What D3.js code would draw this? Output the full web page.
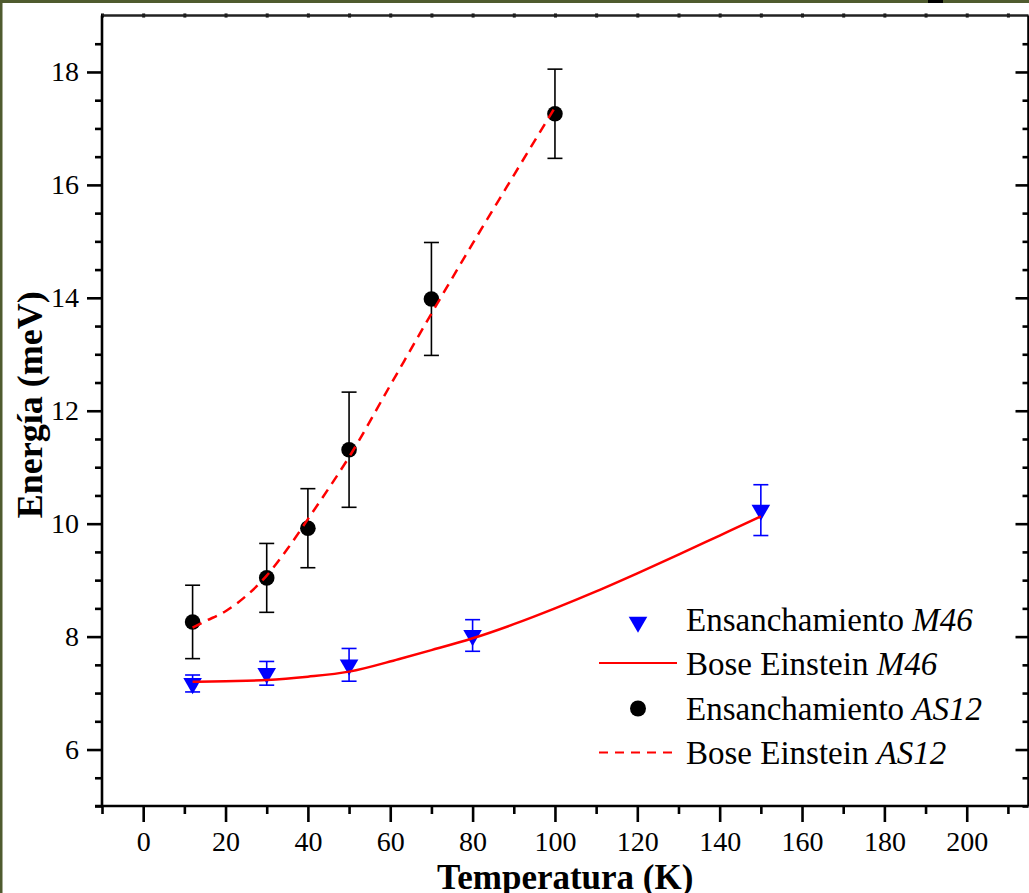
<!DOCTYPE html>
<html>
<head>
<meta charset="utf-8">
<script src="https://cdn.jsdelivr.net/npm/d3@7"></script>
<style>
  html, body { margin: 0; padding: 0; background: #ffffff; }
  svg { display: block; }
  text { font-family: "Liberation Serif", "Times New Roman", serif; fill: #000; }
</style>
</head>
<body>
<svg id="chart" width="1029" height="893"></svg>
<script>
// ---- data ----
const m46T   = [12, 30, 50, 80, 150];
const m46E   = [7.17, 7.35, 7.50, 8.02, 10.24];
const m46Err = [0.15, 0.21, 0.29, 0.28, 0.45];

const as12T   = [12, 30, 40, 50, 70, 100];
const as12E   = [8.26, 9.04, 9.92, 11.31, 13.98, 17.26];
const as12Err = [0.65, 0.61, 0.70, 1.02, 1.00, 0.79];

// fitted curves
const fitM46T = [12, 20, 30, 40, 50, 62, 70, 80, 90, 100, 110, 120, 130, 140, 150];
const fitM46E = [7.20, 7.21, 7.23, 7.29, 7.38, 7.60, 7.76, 7.97, 8.22, 8.50, 8.80, 9.12, 9.45, 9.79, 10.13];
const fitAS12T = [12, 15, 20, 25, 30, 35, 40, 45, 50, 60, 70, 80, 90, 100];
const fitAS12E = [8.16, 8.27, 8.45, 8.72, 9.08, 9.55, 10.08, 10.62, 11.18, 12.45, 13.72, 14.96, 16.17, 17.37];

const xMajorTicks = [0, 20, 40, 60, 80, 100, 120, 140, 160, 180, 200];
const xMinorTicks = [-10, 10, 30, 50, 70, 90, 110, 130, 150, 170, 190, 210];
const yMajorTicks = [6, 8, 10, 12, 14, 16, 18];
const yMinorTicks = [5, 5.5, 6.5, 7, 7.5, 8.5, 9, 9.5, 10.5, 11, 11.5, 12.5, 13, 13.5, 14.5, 15, 15.5, 16.5, 17, 17.5, 18.5];
const topTicks = d3.range(-10, 215, 10);

const legendLabels = [
  {main: "Ensanchamiento ", ital: "M46"},
  {main: "Bose Einstein ", ital: "M46"},
  {main: "Ensanchamiento ", ital: "AS12"},
  {main: "Bose Einstein ", ital: "AS12"}
];
const xTitle = "Temperatura (K)";
const yTitle = "Energía (meV)";

// ---- layout ----
const svg = d3.select("#chart");
const W = 1029, H = 893;
const x = d3.scaleLinear().domain([-10, 215]).range([102, 1028.5]);
const y = d3.scaleLinear().domain([5, 19]).range([806, 15.5]);
const X0 = x(-10), X1 = x(215), Y0 = y(5), Y1 = y(19);

// background + olive frame
svg.append("rect").attr("width", W).attr("height", H).attr("fill", "#ffffff");
svg.append("rect").attr("x", 0).attr("y", 0).attr("width", W).attr("height", 3).attr("fill", "#4f5b2f");
svg.append("rect").attr("x", 0).attr("y", 0).attr("width", 2.5).attr("height", H).attr("fill", "#4f5b2f");
svg.append("rect").attr("x", 928).attr("y", 0).attr("width", 15).attr("height", 3).attr("fill", "#000");

const AX = 2.6;

// bottom axis major
const gxMaj = svg.append("g").attr("transform", `translate(0,${Y0})`)
  .call(d3.axisBottom(x).tickValues(xMajorTicks).tickSize(16).tickSizeOuter(0).tickPadding(10).tickFormat(d3.format("d")));
gxMaj.select(".domain").remove();
gxMaj.selectAll("line").attr("stroke", "#000").attr("stroke-width", AX);
gxMaj.selectAll("text").attr("font-size", 28).attr("font-family", "Liberation Serif, serif").attr("dy", "0.68em");

const gxMin = svg.append("g").attr("transform", `translate(0,${Y0})`)
  .call(d3.axisBottom(x).tickValues(xMinorTicks).tickSize(8).tickSizeOuter(0).tickFormat(""));
gxMin.select(".domain").remove();
gxMin.selectAll("line").attr("stroke", "#000").attr("stroke-width", AX);

// top axis tiny ticks
const gxTop = svg.append("g").attr("transform", `translate(0,${Y1})`)
  .call(d3.axisTop(x).tickValues(topTicks).tickSize(2).tickSizeOuter(0).tickFormat(""));
gxTop.select(".domain").remove();
gxTop.selectAll("line").attr("stroke", "#000").attr("stroke-width", 3).attr("y1", 2).attr("y2", -2);

// left axis
const gyMaj = svg.append("g").attr("transform", `translate(${X0},0)`)
  .call(d3.axisLeft(y).tickValues(yMajorTicks).tickSize(15).tickSizeOuter(0).tickPadding(8).tickFormat(d3.format("d")));
gyMaj.select(".domain").remove();
gyMaj.selectAll("line").attr("stroke", "#000").attr("stroke-width", AX);
gyMaj.selectAll("text").attr("font-size", 28).attr("font-family", "Liberation Serif, serif");

const gyMin = svg.append("g").attr("transform", `translate(${X0},0)`)
  .call(d3.axisLeft(y).tickValues(yMinorTicks).tickSize(7).tickSizeOuter(0).tickFormat(""));
gyMin.select(".domain").remove();
gyMin.selectAll("line").attr("stroke", "#000").attr("stroke-width", AX);

// right axis (ticks inward)
const gyR = svg.append("g").attr("transform", `translate(${X1},0)`)
  .call(d3.axisLeft(y).tickValues(yMajorTicks).tickSize(-0).tickFormat(""));
gyR.select(".domain").remove();
gyR.selectAll("line").attr("stroke", "#000").attr("stroke-width", AX).attr("x1", 0).attr("x2", -13);
const gyR2 = svg.append("g").attr("transform", `translate(${X1},0)`)
  .call(d3.axisLeft(y).tickValues(yMinorTicks).tickSize(0).tickFormat(""));
gyR2.select(".domain").remove();
gyR2.selectAll("line").attr("stroke", "#000").attr("stroke-width", AX).attr("x1", 0).attr("x2", -6);

// frame lines
const frame = svg.append("g").attr("stroke", "#000").attr("stroke-width", AX).attr("fill", "none");
frame.append("line").attr("x1", X0 - 7).attr("x2", X1).attr("y1", Y0).attr("y2", Y0);
frame.append("line").attr("x1", X0).attr("x2", X1).attr("y1", Y1).attr("y2", Y1).attr("stroke", "#222");
frame.append("line").attr("x1", X0).attr("x2", X0).attr("y1", Y1).attr("y2", Y0);
frame.append("line").attr("x1", X1).attr("x2", X1).attr("y1", Y1).attr("y2", Y0);

// axis titles
svg.append("text").attr("x", (X0 + X1) / 2).attr("y", 889)
  .attr("text-anchor", "middle").attr("font-weight", "bold").attr("font-size", 35)
  .text(xTitle);
svg.append("text").attr("transform", `translate(42,${(Y0 + Y1) / 2 - 6}) rotate(-90)`)
  .attr("text-anchor", "middle").attr("font-weight", "bold").attr("font-size", 36)
  .text(yTitle);

// ---- data marks ----
const as12 = as12T.map((t, i) => ({t, e: as12E[i], err: as12Err[i]}));
const m46 = m46T.map((t, i) => ({t, e: m46E[i], err: m46Err[i]}));

function errorBars(data, color) {
  const g = svg.append("g").attr("stroke", color).attr("stroke-width", 1.6).attr("fill", "none");
  data.forEach(d => {
    const cx = x(d.t), yt = y(d.e + d.err), yb = y(d.e - d.err);
    g.append("line").attr("x1", cx).attr("x2", cx).attr("y1", yt).attr("y2", yb);
    g.append("line").attr("x1", cx - 7.5).attr("x2", cx + 7.5).attr("y1", yt).attr("y2", yt);
    g.append("line").attr("x1", cx - 7.5).attr("x2", cx + 7.5).attr("y1", yb).attr("y2", yb);
  });
}
errorBars(as12, "#000");
errorBars(m46, "#0000ff");

const triSize = 150;
const triPath = d3.symbol().type(d3.symbolTriangle).size(triSize)();
svg.append("g").selectAll("path").data(m46).join("path")
  .attr("d", triPath)
  .attr("transform", d => `translate(${x(d.t)},${y(d.e)}) rotate(180)`)
  .attr("fill", "#0000ff");

svg.append("g").selectAll("circle").data(as12).join("circle")
  .attr("cx", d => x(d.t)).attr("cy", d => y(d.e)).attr("r", 7.8)
  .attr("fill", "#000");

// fitted lines
const line = d3.line().x(d => x(d[0])).y(d => y(d[1])).curve(d3.curveMonotoneX);
svg.append("path").datum(fitM46T.map((t, i) => [t, fitM46E[i]]))
  .attr("d", line).attr("fill", "none").attr("stroke", "#ff0000").attr("stroke-width", 2.5);
svg.append("path").datum(fitAS12T.map((t, i) => [t, fitAS12E[i]]))
  .attr("d", line).attr("fill", "none").attr("stroke", "#ff0000").attr("stroke-width", 2.5)
  .attr("stroke-dasharray", "10,7");

// ---- legend ----
const lg = svg.append("g");
const rowsY = [631, 675, 719.5, 764];
const symX = 638, txtX = 686;
lg.append("path").attr("d", triPath).attr("transform", `translate(${symX},${rowsY[0] - 9}) rotate(180)`).attr("fill", "#0000ff");
lg.append("line").attr("x1", 599).attr("x2", 677).attr("y1", rowsY[1] - 12).attr("y2", rowsY[1] - 12)
  .attr("stroke", "#ff0000").attr("stroke-width", 2);
lg.append("circle").attr("cx", symX).attr("cy", rowsY[2] - 11).attr("r", 8).attr("fill", "#000");
lg.append("line").attr("x1", 599).attr("x2", 677).attr("y1", rowsY[3] - 11.5).attr("y2", rowsY[3] - 11.5)
  .attr("stroke", "#ff0000").attr("stroke-width", 2).attr("stroke-dasharray", "9,7");
legendLabels.forEach((l, i) => {
  const t = lg.append("text").attr("x", txtX).attr("y", rowsY[i]).attr("font-size", 33);
  t.append("tspan").text(l.main);
  t.append("tspan").attr("font-style", "italic").text(l.ital);
});
</script>
</body>
</html>
